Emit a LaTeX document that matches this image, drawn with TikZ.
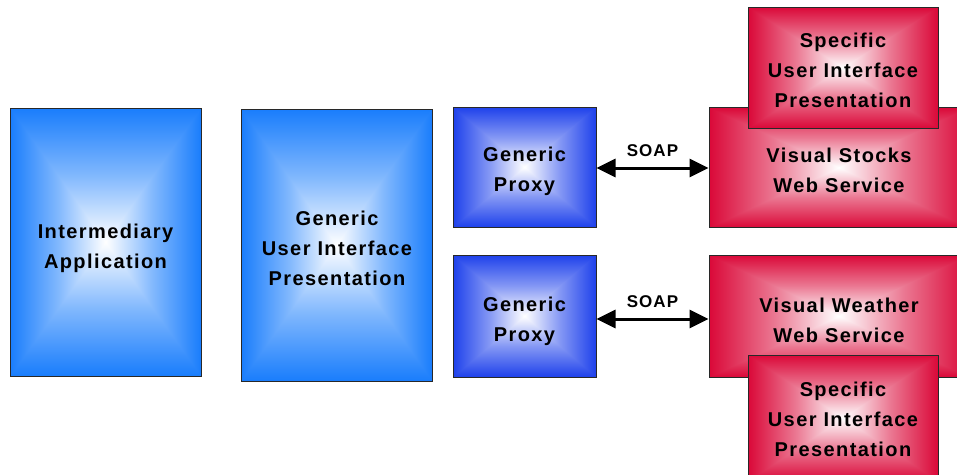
\documentclass[tikz,border=0pt]{standalone}
\usepackage{fontspec}
\setmainfont{Liberation Sans}
\usetikzlibrary{arrows.meta}
\definecolor{lblue}{RGB}{25,125,252}
\definecolor{dblue}{RGB}{30,65,235}
\definecolor{cred}{RGB}{218,8,56}
\definecolor{edgec}{RGB}{40,40,40}
\tikzset{
  grad/.style={path picture={
    \coordinate (pnw) at (path picture bounding box.north west);
    \coordinate (pne) at (path picture bounding box.north east);
    \coordinate (psw) at (path picture bounding box.south west);
    \coordinate (pse) at (path picture bounding box.south east);
    \coordinate (pc) at (path picture bounding box.center);
    \shade[top color=#1, bottom color=white, middle color=#1!55!white] (pnw) rectangle (pc -| pne);
    \shade[bottom color=#1, top color=white, middle color=#1!55!white] (psw) rectangle (pc -| pne);
    \shade[left color=#1, right color=white, middle color=#1!55!white] (pnw) -- (psw) -- (pc) -- cycle;
    \shade[right color=#1, left color=white, middle color=#1!55!white] (pne) -- (pse) -- (pc) -- cycle;
  }},
  box/.style={rectangle, draw=edgec, line width=1pt, inner sep=0pt},
  bluebox/.style={box, grad=lblue},
  proxybox/.style={box, grad=dblue},
  redbox/.style={box, grad=cred},
  txt/.style={align=center, inner sep=0pt,
    font=\fontsize{20}{30}\selectfont\bfseries\addfontfeatures{LetterSpace=7}},
  soap/.style={{Triangle[length=19pt,width=18pt]}-{Triangle[length=19pt,width=18pt]}, line width=3pt, black},
  lbl/.style={font=\fontsize{17}{20}\selectfont\bfseries\addfontfeatures{LetterSpace=6}, inner sep=0pt}
}
\begin{document}
\begin{tikzpicture}[x=1pt,y=-1pt]
\useasboundingbox (0,0) rectangle (957,474);
\clip (0,0) rectangle (957,474);
\node[bluebox, minimum width=191pt, minimum height=268pt] (inter) at (105.5,242) {};
\node[txt] (intert) at (105.5,248) {Intermediary\\Application};
\node[bluebox, minimum width=191pt, minimum height=272pt] (gui) at (336.5,245) {};
\node[txt] (guit) at (337,248.5) {Generic\\User Interface\\Presentation};
\node[proxybox, minimum width=143pt, minimum height=120pt] (p1) at (524.5,167) {};
\node[txt] (p1t) at (524.5,171) {Generic\\Proxy};
\node[proxybox, minimum width=143pt, minimum height=122pt] (p2) at (524.5,316) {};
\node[txt] (p2t) at (524.5,321) {Generic\\Proxy};
\node[redbox, minimum width=260pt, minimum height=120pt] (ws1) at (839,167.5) {};
\node[txt] (ws1t) at (839,170) {Visual Stocks\\Web Service};
\node[redbox, minimum width=190pt, minimum height=121pt] (sp1) at (843,67.5) {};
\node[txt] (sp1t) at (843,70.5) {Specific\\User Interface\\Presentation};
\node[redbox, minimum width=260pt, minimum height=122pt] (ws2) at (839,316) {};
\node[txt] (ws2t) at (839,320) {Visual Weather\\Web Service};
\node[redbox, minimum width=190pt, minimum height=126pt] (sp2) at (843,418) {};
\node[txt] (sp2t) at (843,419) {Specific\\User Interface\\Presentation};
\draw[soap] (p1.east |- 0,168) -- (ws1.west |- 0,168) node[midway, above=10pt, lbl] (s1) {SOAP};
\draw[soap] (p2.east |- 0,319) -- (ws2.west |- 0,319) node[midway, above=10pt, lbl] (s2) {SOAP};
\end{tikzpicture}
\end{document}
